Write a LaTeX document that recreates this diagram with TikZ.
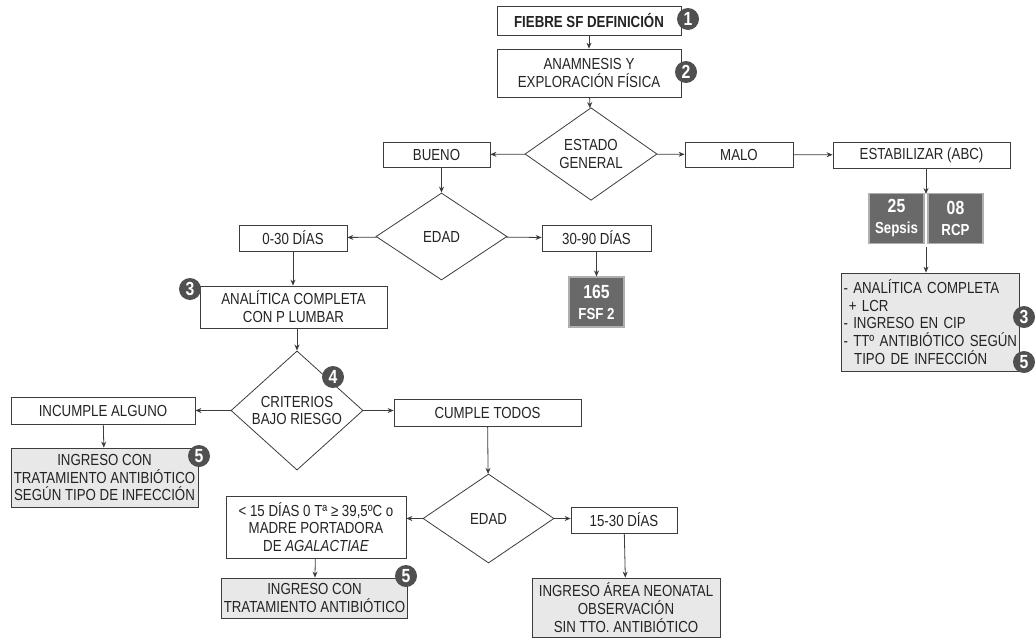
\documentclass[tikz,border=0pt]{standalone}
\usepackage{fontspec}
\setmainfont{Liberation Sans}[FakeStretch=0.83]
\usepackage{tikz}
\usetikzlibrary{shapes.geometric,arrows.meta,positioning}
\definecolor{LineGrey}{RGB}{60, 60, 60}
\definecolor{TextGrey}{RGB}{35, 35, 35}
\definecolor{FillGrey}{RGB}{232, 232, 232}
\definecolor{TagGrey}{RGB}{105, 105, 105}
\definecolor{TagEdge}{RGB}{175, 175, 175}
\definecolor{BadgeGrey}{RGB}{80, 80, 80}

\begin{document}
\begin{tikzpicture}[x=1pt, y=-1pt,
    txt/.style={font=\fontsize{16}{17.8}\selectfont, text=TextGrey},
    box/.style={txt, draw=LineGrey, line width=0.8pt, align=center, inner sep=2pt},
    gbox/.style={box, fill=FillGrey},
    dia/.style={txt, diamond, draw=LineGrey, line width=0.8pt, align=center, inner sep=0pt,
        minimum width=132, minimum height=88},
    tag/.style={fill=TagGrey, draw=TagEdge, line width=1.2pt, text=white, align=center,
        minimum width=55, minimum height=50, inner sep=0pt,
        font=\fontsize{16}{21}\selectfont\bfseries},
    num/.style={circle, fill=BadgeGrey, text=white, inner sep=0pt, minimum size=22,
        font=\fontsize{19}{19}\selectfont\bfseries},
    flow/.style={-{Stealth[length=6pt, width=5pt]}, draw=LineGrey, line width=0.8pt}]
    \useasboundingbox (0,0) rectangle (1035,637);

    % Top of the chart
    \node[box, font=\fontsize{16}{17.8}\selectfont\bfseries, minimum width=184, minimum height=29]
        (fiebre) at (589,20.5) {FIEBRE SF DEFINICIÓN};
    \node[box, minimum width=184, minimum height=48] (anam) at (589,73)
        {ANAMNESIS Y\\EXPLORACIÓN FÍSICA};
    \node[dia] (estado) at (591,154) {ESTADO\\GENERAL};
    \node[box, minimum width=107, minimum height=25] (bueno) at (436.5,154.5) {BUENO};
    \node[box, minimum width=108, minimum height=25] (malo) at (739,154.5) {MALO};
    \node[box, minimum width=177, minimum height=26] (estab) at (921.5,155) {ESTABILIZAR (ABC)};

    % Right branch
    \node[tag] (sepsis) at (896.5,218.5) {{\fontsize{19}{21}\selectfont 25}\\Sepsis};
    \node[tag] (rcp) at (955.5,218.5) {{\fontsize{19}{21}\selectfont 08}\\RCP};
    \coordinate (tagtop) at (926,194);
    \coordinate (tagbot) at (926,247);
    \node[gbox, align=left, text width=174, minimum height=98] (cip) at (930.5,322)
        {- ANALÍTICA COMPLETA\\
         \ + LCR\\
         - INGRESO EN CIP\\
         - TTº ANTIBIÓTICO SEGÚN\\
         \ \ TIPO DE INFECCIÓN};

    % Edad (1)
    \node[dia, minimum width=131, minimum height=87] (edad) at (441.5,236.5) {EDAD};
    \node[box, minimum width=108, minimum height=26] (dias030) at (293,238) {0-30 DÍAS};
    \node[box, minimum width=109, minimum height=26] (dias3090) at (596.5,238) {30-90 DÍAS};
    \node[tag] (fsf) at (596.5,302) {{\fontsize{19}{21}\selectfont 165}\\FSF 2};
    \node[box, minimum width=187, minimum height=42] (lumbar) at (293.5,307)
        {ANALÍTICA COMPLETA\\CON P LUMBAR};

    % Criterios
    \node[dia, minimum height=89] (crit) at (297,410.5) {CRITERIOS\\BAJO RIESGO};
    \node[box, minimum width=184, minimum height=27] (incumple) at (103,410.5) {INCUMPLE ALGUNO};
    \node[box, minimum width=187, minimum height=27] (cumple) at (487.5,412.5) {CUMPLE TODOS};
    \node[gbox, minimum width=187, minimum height=59] (ingresoA) at (104.5,477.5)
        {INGRESO CON\\TRATAMIENTO ANTIBIÓTICO\\SEGÚN TIPO DE INFECCIÓN};

    % Edad (2)
    \node[dia, minimum width=131, minimum height=89] (edadB) at (488.5,518.5) {EDAD};
    \node[box, minimum width=180, minimum height=62] (menor) at (316,527)
        {< 15 DÍAS 0 Tª ≥ 39,5ºC o\\MADRE PORTADORA\\DE \textit{AGALACTIAE}};
    \node[box, minimum width=106, minimum height=26] (dias1530) at (624,520) {15-30 DÍAS};
    \node[gbox, minimum width=175, minimum height=40] (ingresoB) at (314.5,598)
        {INGRESO CON\\TRATAMIENTO ANTIBIÓTICO};
    \node[gbox, minimum width=188, minimum height=59] (neonatal) at (626,607.5)
        {INGRESO ÁREA NEONATAL\\OBSERVACIÓN\\SIN TTO. ANTIBIÓTICO};

    % Numbered notes
    \node[num] (n1) at (688,19) {1};
    \node[num] (n2) at (686,72) {2};
    \node[num] (n3a) at (190,289) {3};
    \node[num] (n4) at (333,377) {4};
    \node[num] (n5a) at (199,456) {5};
    \node[num] (n5b) at (406,576) {5};
    \node[num] (n3b) at (1024,317) {3};
    \node[num] (n5c) at (1024,362) {5};

    % Arrows
    \draw[flow] (fiebre) -- (anam);
    \draw[flow] (anam) -- (estado);
    \draw[flow] (estado) -- (bueno);
    \draw[flow] (estado) -- (malo);
    \draw[flow] (malo) -- (estab);
    \draw[flow] (estab.south -| tagtop) -- (tagtop);
    \draw[flow] (tagbot) -- (cip.north -| tagbot);
    \draw[flow] (bueno.south -| edad.north) -- (edad.north);
    \draw[flow] (edad) -- (dias030);
    \draw[flow] (edad) -- (dias3090);
    \draw[flow] (dias3090) -- (fsf);
    \draw[flow] (dias030) -- (lumbar.north -| dias030);
    \draw[flow] (crit.north |- lumbar.south) -- (crit.north);
    \draw[flow] (crit) -- (incumple);
    \draw[flow] (crit.east) -- (crit.east -| cumple.west);
    \draw[flow] (incumple) -- (ingresoA);
    \draw[flow] (cumple) -- (edadB);
    \draw[flow] (edadB.west) -- (edadB.west -| menor.east);
    \draw[flow] (edadB.east) -- (edadB.east -| dias1530.west);
    \draw[flow] (menor) -- (ingresoB);
    \draw[flow] (dias1530) -- (neonatal);
\end{tikzpicture}
\end{document}
